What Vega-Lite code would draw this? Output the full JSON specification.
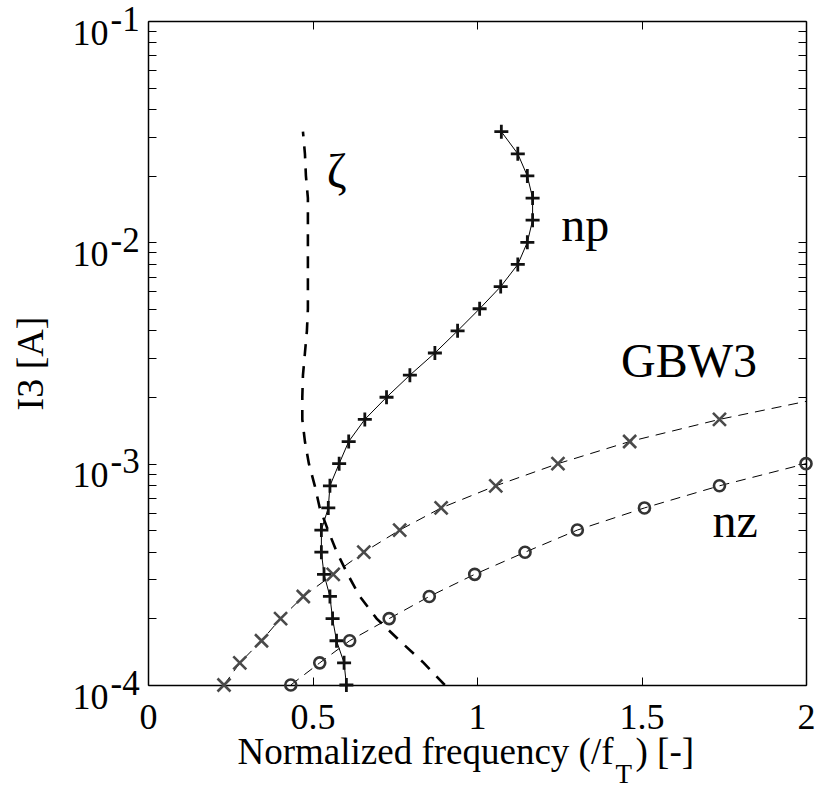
{
  "$schema": "https://vega.github.io/schema/vega-lite/v6.json",
  "width": 658,
  "height": 664,
  "autosize": {"type": "none"},
  "padding": {"left": 148, "top": 21, "right": 9, "bottom": 100},
  "background": "white",
  "config": {
    "view": {"stroke": null},
    "font": "Liberation Serif",
    "axis": {
      "grid": false,
      "labelFont": "Liberation Serif",
      "titleFont": "Liberation Serif",
      "labelColor": "black",
      "titleColor": "black",
      "titleFontWeight": "normal",
      "domainColor": "black",
      "tickColor": "black",
      "domainWidth": 1.5,
      "tickWidth": 1,
      "labelFlush": false,
      "labelOverlap": false,
      "labelBound": false
    }
  },
  "datasets": {
    "curves": [
      {"s": "zeta", "x": 0.471, "y": 0.031623},
      {"s": "zeta", "x": 0.477, "y": 0.025119},
      {"s": "zeta", "x": 0.480, "y": 0.019953},
      {"s": "zeta", "x": 0.486, "y": 0.015849},
      {"s": "zeta", "x": 0.486, "y": 0.012589},
      {"s": "zeta", "x": 0.486, "y": 0.01},
      {"s": "zeta", "x": 0.486, "y": 0.0079433},
      {"s": "zeta", "x": 0.486, "y": 0.0063096},
      {"s": "zeta", "x": 0.486, "y": 0.0050119},
      {"s": "zeta", "x": 0.483, "y": 0.0039811},
      {"s": "zeta", "x": 0.477, "y": 0.0031623},
      {"s": "zeta", "x": 0.471, "y": 0.0025119},
      {"s": "zeta", "x": 0.469, "y": 0.0019953},
      {"s": "zeta", "x": 0.469, "y": 0.0015849},
      {"s": "zeta", "x": 0.477, "y": 0.0012589},
      {"s": "zeta", "x": 0.489, "y": 0.001},
      {"s": "zeta", "x": 0.507, "y": 0.00079433},
      {"s": "zeta", "x": 0.522, "y": 0.00063096},
      {"s": "zeta", "x": 0.547, "y": 0.00050119},
      {"s": "zeta", "x": 0.574, "y": 0.00039811},
      {"s": "zeta", "x": 0.607, "y": 0.00031623},
      {"s": "zeta", "x": 0.644, "y": 0.00025119},
      {"s": "zeta", "x": 0.695, "y": 0.00019953},
      {"s": "zeta", "x": 0.765, "y": 0.00015849},
      {"s": "zeta", "x": 0.838, "y": 0.00012589},
      {"s": "zeta", "x": 0.902, "y": 0.0001},
      {"s": "np", "x": 1.074, "y": 0.031623},
      {"s": "np", "x": 1.124, "y": 0.025119},
      {"s": "np", "x": 1.153, "y": 0.019953},
      {"s": "np", "x": 1.169, "y": 0.015849},
      {"s": "np", "x": 1.169, "y": 0.012589},
      {"s": "np", "x": 1.153, "y": 0.01},
      {"s": "np", "x": 1.124, "y": 0.0079433},
      {"s": "np", "x": 1.072, "y": 0.0063096},
      {"s": "np", "x": 1.008, "y": 0.0050119},
      {"s": "np", "x": 0.941, "y": 0.0039811},
      {"s": "np", "x": 0.872, "y": 0.0031623},
      {"s": "np", "x": 0.796, "y": 0.0025119},
      {"s": "np", "x": 0.725, "y": 0.0019953},
      {"s": "np", "x": 0.659, "y": 0.0015849},
      {"s": "np", "x": 0.610, "y": 0.0012589},
      {"s": "np", "x": 0.581, "y": 0.001},
      {"s": "np", "x": 0.553, "y": 0.00079433},
      {"s": "np", "x": 0.548, "y": 0.00063096},
      {"s": "np", "x": 0.527, "y": 0.00050119},
      {"s": "np", "x": 0.527, "y": 0.00039811},
      {"s": "np", "x": 0.535, "y": 0.00031623},
      {"s": "np", "x": 0.553, "y": 0.00025119},
      {"s": "np", "x": 0.561, "y": 0.00019953},
      {"s": "np", "x": 0.573, "y": 0.00015849},
      {"s": "np", "x": 0.596, "y": 0.00012589},
      {"s": "np", "x": 0.603, "y": 0.0001},
      {"s": "gbw3", "x": 0.231, "y": 0.0001},
      {"s": "gbw3", "x": 0.279, "y": 0.00012589},
      {"s": "gbw3", "x": 0.345, "y": 0.00015849},
      {"s": "gbw3", "x": 0.403, "y": 0.00019953},
      {"s": "gbw3", "x": 0.472, "y": 0.00025119},
      {"s": "gbw3", "x": 0.563, "y": 0.00031623},
      {"s": "gbw3", "x": 0.656, "y": 0.00039811},
      {"s": "gbw3", "x": 0.765, "y": 0.00050119},
      {"s": "gbw3", "x": 0.891, "y": 0.00063096},
      {"s": "gbw3", "x": 1.057, "y": 0.00079433},
      {"s": "gbw3", "x": 1.246, "y": 0.001},
      {"s": "gbw3", "x": 1.464, "y": 0.0012589},
      {"s": "gbw3", "x": 1.737, "y": 0.0015849},
      {"s": "gbw3", "x": 2.06, "y": 0.0019953},
      {"s": "nz", "x": 0.434, "y": 0.0001},
      {"s": "nz", "x": 0.522, "y": 0.00012589},
      {"s": "nz", "x": 0.613, "y": 0.00015849},
      {"s": "nz", "x": 0.733, "y": 0.00019953},
      {"s": "nz", "x": 0.855, "y": 0.00025119},
      {"s": "nz", "x": 0.993, "y": 0.00031623},
      {"s": "nz", "x": 1.146, "y": 0.00039811},
      {"s": "nz", "x": 1.305, "y": 0.00050119},
      {"s": "nz", "x": 1.509, "y": 0.00063096},
      {"s": "nz", "x": 1.737, "y": 0.00079433},
      {"s": "nz", "x": 2.0, "y": 0.001}
    ],
    "labels": [
      {"label": "ζ", "x": 0.5436, "y": 0.0177},
      {"label": "np", "x": 1.256, "y": 0.01014},
      {"label": "GBW3", "x": 1.438, "y": 0.002472},
      {"label": "nz", "x": 1.716, "y": 0.000466}
    ]
  },
  "resolve": {
    "scale": {"x": "shared", "y": "shared"},
    "axis": {"x": "independent", "y": "independent"}
  },
  "layer": [
    {
      "data": {"name": "curves"},
      "transform": [{"filter": "datum.s === 'zeta'"}],
      "mark": {"type": "line", "stroke": "black", "strokeWidth": 2.6, "strokeDash": [12, 10], "clip": true},
      "encoding": {
        "x": {
          "field": "x", "type": "quantitative",
          "scale": {"domain": [0, 2], "nice": false, "zero": false},
          "axis": {
            "orient": "bottom",
            "values": [0, 0.5, 1, 1.5, 2],
            "format": "~g",
            "labelFontSize": 36,
            "labelBaseline": "alphabetic",
            "labelPadding": 43,
            "ticks": false,
            "domain": false,
            "title": "Normalized frequency (/f",
            "titleFontSize": 37,
            "titleX": 465,
            "titleY": 78,
            "titleAlign": "right",
            "titleBaseline": "alphabetic"
          }
        },
        "y": {
          "field": "y", "type": "quantitative",
          "scale": {"type": "log", "domain": [0.0001, 0.1], "nice": false},
          "axis": {
            "orient": "left",
            "values": [0.0001, 0.001, 0.01, 0.1],
            "labelExpr": "'10'",
            "labelFontSize": 36,
            "labelAlign": "right",
            "labelBaseline": "alphabetic",
            "labelPadding": 40,
            "labelOffset": 23,
            "ticks": false,
            "domain": false,
            "title": "I3 [A]",
            "titleFontSize": 38,
            "titleX": -106,
            "titleY": 342,
            "titleAngle": 270,
            "titleAlign": "center",
            "titleBaseline": "alphabetic"
          }
        },
        "order": {"field": "y", "type": "quantitative"}
      }
    },
    {
      "data": {"name": "curves"},
      "transform": [{"filter": "datum.s === 'np'"}],
      "mark": {"type": "line", "stroke": "black", "strokeWidth": 1, "clip": true},
      "encoding": {
        "x": {
          "field": "x", "type": "quantitative",
          "scale": {"domain": [0, 2], "nice": false, "zero": false},
          "axis": {
            "orient": "top",
            "values": [0, 0.5, 1, 1.5, 2],
            "labels": false,
            "ticks": true,
            "tickSize": -8,
            "domain": true,
            "title": ") [-]",
            "titleFontSize": 37,
            "titleX": 487,
            "titleY": 742,
            "titleAlign": "left",
            "titleBaseline": "alphabetic"
          }
        },
        "y": {
          "field": "y", "type": "quantitative",
          "scale": {"type": "log", "domain": [0.0001, 0.1], "nice": false},
          "axis": {
            "orient": "left",
            "values": [0.0001, 0.001, 0.01, 0.1],
            "labelExpr": "'-' + format(-log(datum.value) / LN10, '.0f')",
            "labelFontSize": 35,
            "labelAlign": "left",
            "labelBaseline": "alphabetic",
            "labelPadding": 38,
            "labelOffset": 9,
            "ticks": false,
            "domain": false,
            "title": null
          }
        },
        "order": {"field": "y", "type": "quantitative"}
      }
    },
    {
      "data": {"name": "curves"},
      "transform": [{"filter": "datum.s === 'gbw3'"}],
      "mark": {"type": "line", "stroke": "black", "strokeWidth": 1, "strokeDash": [10, 7], "clip": true},
      "encoding": {
        "x": {
          "field": "x", "type": "quantitative",
          "scale": {"domain": [0, 2], "nice": false, "zero": false},
          "axis": {
            "orient": "bottom",
            "values": [0, 0.5, 1, 1.5, 2],
            "labels": false,
            "ticks": true,
            "tickSize": -8,
            "domain": true,
            "title": "T",
            "titleFontSize": 27,
            "titleX": 467,
            "titleY": 97,
            "titleAlign": "left",
            "titleBaseline": "alphabetic"
          }
        },
        "y": {
          "field": "y", "type": "quantitative",
          "scale": {"type": "log", "domain": [0.0001, 0.1], "nice": false},
          "axis": {
            "orient": "left",
            "values": [0.0001, 0.0002, 0.0003, 0.0004, 0.0005, 0.0006, 0.0007, 0.0008, 0.0009, 0.001, 0.002, 0.003, 0.004, 0.005, 0.006, 0.007, 0.008, 0.009, 0.01, 0.02, 0.03, 0.04, 0.05, 0.06, 0.07, 0.08, 0.09, 0.1],
            "labels": false,
            "ticks": true,
            "tickSize": -8,
            "domain": true,
            "title": null
          }
        },
        "order": {"field": "y", "type": "quantitative"}
      }
    },
    {
      "data": {"name": "curves"},
      "transform": [{"filter": "datum.s === 'nz'"}],
      "mark": {"type": "line", "stroke": "black", "strokeWidth": 1, "strokeDash": [10, 7], "clip": true},
      "encoding": {
        "x": {
          "field": "x", "type": "quantitative",
          "scale": {"domain": [0, 2], "nice": false, "zero": false},
          "axis": null
        },
        "y": {
          "field": "y", "type": "quantitative",
          "scale": {"type": "log", "domain": [0.0001, 0.1], "nice": false},
          "axis": {
            "orient": "right",
            "values": [0.0001, 0.0002, 0.0003, 0.0004, 0.0005, 0.0006, 0.0007, 0.0008, 0.0009, 0.001, 0.002, 0.003, 0.004, 0.005, 0.006, 0.007, 0.008, 0.009, 0.01, 0.02, 0.03, 0.04, 0.05, 0.06, 0.07, 0.08, 0.09, 0.1],
            "labels": false,
            "ticks": true,
            "tickSize": -8,
            "domain": true,
            "title": null
          }
        },
        "order": {"field": "y", "type": "quantitative"}
      }
    },
    {
      "data": {"name": "curves"},
      "transform": [{"filter": "datum.s === 'np'"}],
      "mark": {"type": "point", "shape": "M-1,0L1,0M0,-1L0,1", "size": 196, "filled": false, "stroke": "#111111", "strokeWidth": 2.8, "opacity": 1},
      "encoding": {
        "x": {"field": "x", "type": "quantitative", "scale": {"domain": [0, 2], "nice": false, "zero": false}, "axis": null},
        "y": {"field": "y", "type": "quantitative", "scale": {"type": "log", "domain": [0.0001, 0.1], "nice": false}, "axis": null}
      }
    },
    {
      "data": {"name": "curves"},
      "transform": [{"filter": "datum.s === 'gbw3'"}],
      "mark": {"type": "point", "shape": "M-1,-1L1,1M-1,1L1,-1", "size": 169, "filled": false, "stroke": "#4a4a4a", "strokeWidth": 2.6, "opacity": 1},
      "encoding": {
        "x": {"field": "x", "type": "quantitative", "scale": {"domain": [0, 2], "nice": false, "zero": false}, "axis": null},
        "y": {"field": "y", "type": "quantitative", "scale": {"type": "log", "domain": [0.0001, 0.1], "nice": false}, "axis": null}
      }
    },
    {
      "data": {"name": "curves"},
      "transform": [{"filter": "datum.s === 'nz'"}],
      "mark": {"type": "point", "shape": "circle", "size": 121, "filled": false, "stroke": "#333333", "strokeWidth": 2.6, "opacity": 1},
      "encoding": {
        "x": {"field": "x", "type": "quantitative", "scale": {"domain": [0, 2], "nice": false, "zero": false}, "axis": null},
        "y": {"field": "y", "type": "quantitative", "scale": {"type": "log", "domain": [0.0001, 0.1], "nice": false}, "axis": null}
      }
    },
    {
      "data": {"name": "labels"},
      "mark": {"type": "text", "font": "Liberation Serif", "fontSize": 48, "align": "left", "baseline": "alphabetic", "color": "black"},
      "encoding": {
        "x": {"field": "x", "type": "quantitative", "scale": {"domain": [0, 2], "nice": false, "zero": false}, "axis": null},
        "y": {"field": "y", "type": "quantitative", "scale": {"type": "log", "domain": [0.0001, 0.1], "nice": false}, "axis": null},
        "text": {"field": "label", "type": "nominal"}
      }
    }
  ]
}
